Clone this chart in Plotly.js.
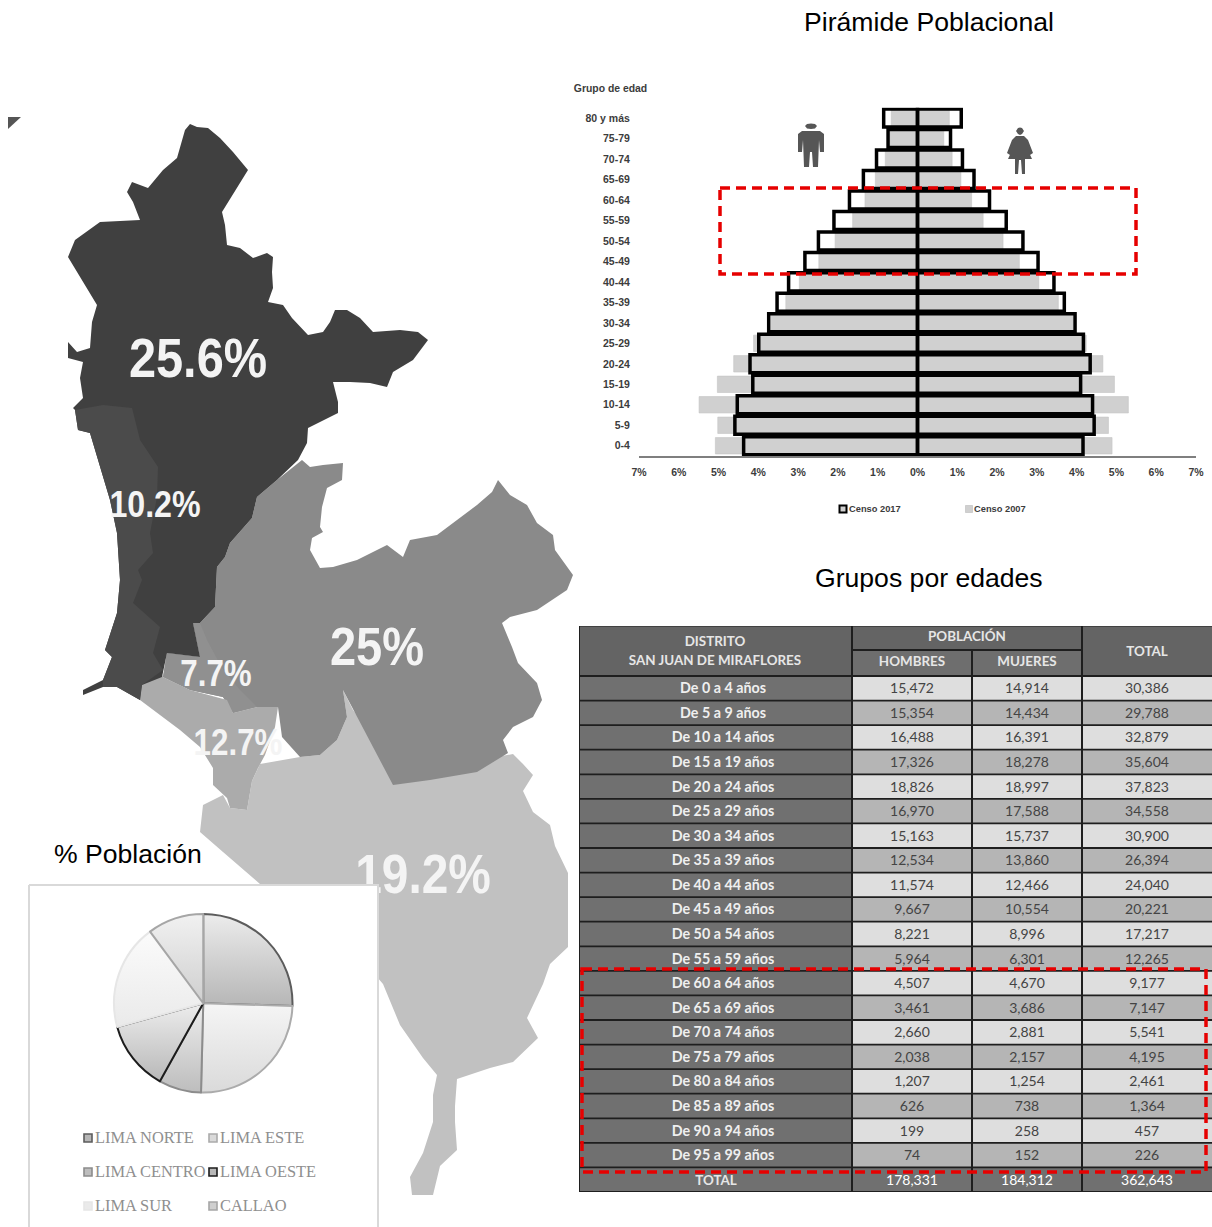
<!DOCTYPE html>
<html lang="es">
<head>
<meta charset="utf-8">
<title>San Juan de Miraflores: población</title>
<script src="https://cdn.plot.ly/plotly-3.0.1.min.js"></script>
<style>html,body{margin:0;padding:0;background:#fff}#chart{width:1212px;height:1227px}</style>
</head>
<body>
<div id="chart"></div>
<script>
// Age pyramid, census 2017 vs 2007 (% of population, oldest group first)
const ageBands = ['80 y más','75-79','70-74','65-69','60-64','55-59','50-54','45-49','40-44','35-39','30-34','25-29','20-24','15-19','10-14','5-9','0-4'];
const men2017 = [0.85,0.74,1.03,1.36,1.71,2.10,2.49,2.83,3.24,3.53,3.74,3.99,4.21,4.14,4.53,4.59,4.37];
const women2017 = [1.10,0.83,1.13,1.42,1.81,2.23,2.65,3.03,3.43,3.69,3.96,4.17,4.34,4.10,4.40,4.44,4.16];
const men2007 = [0.66,0.69,0.81,1.06,1.32,1.63,2.07,2.48,2.97,3.31,3.67,4.12,4.62,5.03,5.49,5.02,5.08];
const women2007 = [0.80,0.66,0.87,1.09,1.36,1.65,2.15,2.56,3.05,3.54,3.91,4.24,4.66,4.95,5.30,4.80,4.89];
const pctTicks = [-7,-6,-5,-4,-3,-2,-1,0,1,2,3,4,5,6,7];

// Population share by Lima zone
const zones = ['LIMA NORTE','LIMA ESTE','LIMA CENTRO','LIMA OESTE','LIMA SUR','CALLAO'];
const zoneShare = [25.6,25,7.7,12.7,19.2,10.2];
const zoneEdge = ['#5c5c5c','#ababab','#8c8c8c','#1c1c1c','#e6e6e6','#a6a6a6'];
const zoneFillTop = ['#ececec','#f5f5f5','#eeeeee','#ededed','#fbfbfb','#f1f1f1'];
const zoneFillBottom = ['#b6b6b6','#dadada','#bdbdbd','#b8b8b8','#eaeaea','#cfcfcf'];

// District table, San Juan de Miraflores
const tableAges = ['De 0 a 4 años','De 5 a 9 años','De 10 a 14 años','De 15 a 19 años','De 20 a 24 años','De 25 a 29 años','De 30 a 34 años','De 35 a 39 años','De 40 a 44 años','De 45 a 49 años','De 50 a 54 años','De 55 a 59 años','De 60 a 64 años','De 65 a 69 años','De 70 a 74 años','De 75 a 79 años','De 80 a 84 años','De 85 a 89 años','De 90 a 94 años','De 95 a 99 años','TOTAL'];
const hombres = [15472,15354,16488,17326,18826,16970,15163,12534,11574,9667,8221,5964,4507,3461,2660,2038,1207,626,199,74,178331];
const mujeres = [14914,14434,16391,18278,18997,17588,15737,13860,12466,10554,8996,6301,4670,3686,2881,2157,1254,738,258,152,184312];
const totales = [30386,29788,32879,35604,37823,34558,30900,26394,24040,20221,17217,12265,9177,7147,5541,4195,2461,1364,457,226,362643];

// Map outlines, in page units
const mapNorte = [[185,130],[190,124],[197,127],[208,128],[220,138],[233,152],[248,170],[243,178],[237,187],[230,198],[222,212],[225,225],[227,245],[240,248],[253,258],[267,253],[273,257],[272,272],[273,288],[268,302],[283,305],[292,318],[308,335],[323,332],[330,322],[335,310],[347,310],[360,318],[373,332],[400,330],[418,332],[428,340],[413,360],[393,372],[387,387],[370,383],[350,382],[333,382],[338,402],[338,413],[308,428],[307,443],[298,460],[277,480],[257,497],[252,518],[230,543],[225,557],[217,567],[215,607],[200,623],[193,623],[200,657],[167,653],[162,677],[142,685],[140,700],[117,687],[103,687],[83,695],[83,690],[103,680],[112,657],[105,650],[117,613],[120,580],[117,533],[110,500],[100,467],[90,433],[78,430],[75,410],[73,408],[83,398],[80,378],[83,362],[68,358],[68,342],[77,352],[90,348],[92,322],[97,305],[68,257],[75,240],[100,222],[140,220],[133,202],[127,192],[132,182],[148,188],[163,170],[177,158]];
const mapCallao = [[75,410],[103,405],[132,408],[140,440],[158,467],[157,497],[150,533],[153,553],[138,570],[142,580],[133,603],[160,627],[153,653],[163,670],[142,685],[140,700],[117,687],[103,687],[103,680],[112,657],[105,650],[117,613],[120,580],[117,533],[110,500],[100,467],[90,433],[78,430]];
const mapEste = [[302,460],[310,467],[323,465],[343,463],[342,480],[327,488],[322,507],[320,527],[323,532],[312,538],[310,550],[320,568],[333,567],[357,560],[387,545],[403,557],[410,540],[437,535],[453,523],[477,505],[492,492],[498,480],[510,495],[527,505],[537,523],[553,535],[555,550],[573,575],[567,590],[537,610],[510,617],[502,623],[512,647],[518,663],[537,683],[542,700],[533,717],[513,727],[503,740],[508,753],[477,772],[430,780],[393,785],[343,690],[347,717],[337,740],[320,755],[300,757],[282,737],[278,707],[257,707],[233,713],[223,697],[190,690],[163,677],[167,653],[200,657],[193,623],[200,623],[215,607],[217,567],[225,557],[230,543],[252,518],[257,497],[277,480]];
const mapCentro = [[167,653],[200,657],[193,623],[200,623],[207,640],[222,668],[240,690],[257,707],[233,713],[223,697],[190,690],[163,677]];
const mapOeste = [[142,685],[160,670],[163,677],[190,690],[227,700],[233,713],[257,707],[278,707],[275,727],[265,755],[258,768],[252,781],[247,810],[230,808],[227,798],[213,785],[213,768],[200,747],[180,730],[140,700]];
const mapSur = [[343,690],[353,710],[400,770],[440,770],[480,760],[513,754],[523,764],[533,775],[523,791],[533,812],[550,825],[555,846],[568,873],[568,947],[550,964],[543,984],[527,1018],[538,1038],[513,1062],[490,1068],[457,1079],[455,1106],[455,1122],[457,1150],[440,1166],[433,1195],[412,1195],[410,1177],[423,1153],[433,1122],[433,1095],[437,1075],[423,1058],[400,1025],[383,984],[377,977],[300,960],[260,884],[223,852],[200,832],[203,805],[223,795],[230,808],[247,810],[252,781],[260,764],[300,757],[320,755],[337,740],[347,717]];
const mapCorner = [[8,117],[21,117],[8,129]];
const mapLabels = [['25.6%',198,363,56],['10.2%',155,508,37],['7.7%',216,677,36],['12.7%',238,746,36],['25%',377,652,54],['19.2%',423,879,55]];

// Pictograms beside the pyramid
const manHead = [[805,126],[807,124],[811,123.5],[815,124],[817,126],[815,128.5],[811,129],[807,128.5]];
const manBody = [[802,131],[820,131],[824,134],[824,152],[820,152],[819,140],[818,167],[813,167],[812,152],[810,152],[809,167],[804,167],[803,140],[802,152],[798,152],[798,134]];
const womanHead = [[1016,131],[1018,128],[1020,127.5],[1022,128],[1024,131],[1022,134],[1020,135],[1018,134]];
const womanBody = [[1016,136],[1024,136],[1028,140],[1033,153],[1030,155],[1026,146],[1032,159],[1025,159],[1025,174],[1022,174],[1021,160],[1019,160],[1018,174],[1015,174],[1015,159],[1008,159],[1014,146],[1010,155],[1007,153],[1012,140]];

const W = 1212, H = 1227;
const SANS = '"Liberation Sans", Arial, sans-serif';
const TABLE_FONT = 'Lato, "Noto Sans", sans-serif';

// Filled outline on the page-wide axes
const patch = (pts, color, line) => ({
  type: 'scatter', mode: 'lines', xaxis: 'x', yaxis: 'y', hoverinfo: 'skip',
  x: pts.map(p => p[0]).concat(pts[0][0]),
  y: pts.map(p => p[1]).concat(pts[0][1]),
  fill: 'toself', fillcolor: color,
  line: line || {width: 0, color: color}
});
const pageText = (x, y, text, size, color, family, weight, pos) => ({
  type: 'scatter', mode: 'text', xaxis: 'x', yaxis: 'y', hoverinfo: 'skip',
  x: x, y: y, text: text, cliponaxis: false, textposition: pos || 'middle center',
  textfont: {size: size, color: color, family: family, weight: weight || 400}
});

const traces = [
  patch(mapSur, '#c1c1c1'), patch(mapEste, '#8a8a8a'), patch(mapCentro, '#909090'),
  patch(mapOeste, '#ababab'), patch(mapNorte, '#404040'), patch(mapCallao, '#4b4b4b'),
  patch(mapCorner, '#555555')
];
mapLabels.forEach(l => traces.push(pageText([l[1]], [l[2]], [l[0]], l[3], '#f4f4f4', SANS, 700)));

// Panel of the zone chart sits over the map, under the pie
traces.push(patch([[29,885],[378,885],[378,1240],[29,1240]], '#ffffff', {width: 2, color: '#d9d9d9'}));
const swatchX = zones.map((_, i) => i % 2 ? 213 : 88);
const swatchY = zones.map((_, i) => 1138 + 34 * Math.floor(i / 2));
traces.push({
  type: 'scatter', mode: 'markers', xaxis: 'x', yaxis: 'y', hoverinfo: 'skip',
  x: swatchX, y: swatchY,
  marker: {symbol: 'square', size: 8, color: zoneFillBottom, line: {width: 1.6, color: zoneEdge}}
});
traces.push(pageText(swatchX.map(v => v + 7), swatchY.map(v => v + 1), zones, 16.4, '#8f8f8f', '"Liberation Serif", serif', 400, 'middle right'));

traces.push({
  type: 'pie', labels: zones, values: zoneShare, sort: false, direction: 'clockwise', rotation: 0,
  domain: {x: [114 / W, 292.5 / W], y: [1 - 1092.5 / H, 1 - 914 / H]},
  textinfo: 'none', hoverinfo: 'label+percent', showlegend: false,
  marker: {colors: zoneFillBottom, line: {color: zoneEdge, width: 2}}
});

// Pyramid: 2007 as plain grey bars, 2017 as black outlines on top
const censusBar = (values, sign, name, width, marker) => ({
  type: 'bar', orientation: 'h', xaxis: 'x2', yaxis: 'y2', name: name,
  y: ageBands, x: values.map(v => sign * v), width: width, marker: marker,
  hovertemplate: '%{y}: %{x}%<extra>' + name + '</extra>'
});
const grey = {color: '#d0d0d0', line: {color: '#c4c4c4', width: 0.6}};
const outline = {color: 'rgba(0,0,0,0)', line: {color: '#000000', width: 3.5}};
traces.push(censusBar(men2007, -1, 'Censo 2007', 0.8, grey));
traces.push(censusBar(women2007, 1, 'Censo 2007', 0.8, grey));
traces.push(censusBar(men2017, -1, 'Censo 2017', 0.88, outline));
traces.push(censusBar(women2017, 1, 'Censo 2017', 0.88, outline));
[manHead, manBody, womanHead, womanBody].forEach(p => traces.push(patch(p, '#565656')));
traces.push(pageText([610.5], [89], ['Grupo de edad'], 10.4, '#3c3c3c', SANS, 700));
traces.push({
  type: 'scatter', mode: 'markers', xaxis: 'x', yaxis: 'y', hoverinfo: 'skip',
  x: [843, 969], y: [509, 509],
  marker: {symbol: 'square', size: 7, color: ['#d0d0d0', '#d0d0d0'], line: {width: [2, 0.6], color: ['#000000', '#bbbbbb']}}
});
traces.push(pageText([849, 974], [510, 510], ['Censo 2017', 'Censo 2007'], 9.3, '#3c3c3c', SANS, 700, 'middle right'));

// Table: body cells as two heatmaps sharing the table axes, one row per entry
const lastRow = tableAges.length - 1;
const rowEdges = tableAges.map((_, i) => i).concat(tableAges.length);
const colEdges = [579, 852, 972, 1082, 1212];
const labelEdges = [579, 594, 852];
const shadeOf = i => i === lastRow ? 0 : (i % 2 ? 1 : 2);
const tableScale = [[0, '#707070'], [0.5, '#b5b5b5'], [1, '#dedede']];
const fmt = v => v.toLocaleString('en-US');
traces.push({
  type: 'heatmap', xaxis: 'x3', yaxis: 'y3', x: labelEdges, y: rowEdges,
  z: tableAges.map(() => [0, 0]), zmin: 0, zmax: 2, colorscale: tableScale, showscale: false,
  text: tableAges.map((a, i) => ['', i === lastRow ? '' : a]), texttemplate: '%{text}', hoverinfo: 'skip',
  textfont: {family: TABLE_FONT, size: 14.3, weight: 700, color: '#efefef'}
});
traces.push({
  type: 'heatmap', xaxis: 'x3', yaxis: 'y3', x: colEdges.slice(1), y: rowEdges,
  z: tableAges.map((_, i) => [shadeOf(i), shadeOf(i), shadeOf(i)]), zmin: 0, zmax: 2,
  colorscale: tableScale, showscale: false,
  text: tableAges.map((_, i) => [fmt(hombres[i]), fmt(mujeres[i]), fmt(totales[i])]),
  texttemplate: '%{text}', hoverinfo: 'skip',
  textfont: {family: TABLE_FONT, size: 14}
});
// Two-row header with merged cells
const headTop = -2.035, headMid = -1.06;
traces.push({
  type: 'heatmap', xaxis: 'x3', yaxis: 'y3', x: colEdges, y: [headTop, headMid, 0],
  z: [[0,0,0,0],[0,1,1,0]], zmin: 0, zmax: 1, colorscale: [[0,'#646464'],[1,'#6e6e6e']],
  showscale: false, hoverinfo: 'skip'
});
traces.push({
  type: 'scatter', mode: 'text', xaxis: 'x3', yaxis: 'y3', hoverinfo: 'skip', cliponaxis: false,
  x: [715, 715, 967, 912, 1027, 1147, 716],
  y: [-1.36, -0.58, -1.56, -0.54, -0.54, -0.94, 20.56],
  text: ['DISTRITO', 'SAN JUAN DE MIRAFLORES', 'POBLACIÓN', 'HOMBRES', 'MUJERES', 'TOTAL', tableAges[lastRow]],
  textfont: {family: TABLE_FONT, size: 13.4, weight: 700, color: '#e6e6e6'}
});

// Cell rules for the table
const rule = (x0, y0, x1, y1, w) => ({
  type: 'line', xref: 'x3', yref: 'y3', x0, y0, x1, y1, layer: 'above',
  line: {color: '#1e1e1e', width: w}
});
const tableRules = [rule(579, headTop, 1212, headTop, 1), rule(colEdges[1], headMid, colEdges[3], headMid, 2)];
rowEdges.forEach(r => tableRules.push(rule(579, r, 1212, r, 1.8)));
tableRules.push(rule(579, headTop, 579, 21, 2));
tableRules.push(rule(852, headTop, 852, 21, 2));
tableRules.push(rule(972, headMid, 972, 21, 2));
tableRules.push(rule(1082, headTop, 1082, 21, 2));

// Dashed red highlights
const highlight = (x0, y0, x1, y1) => ({
  type: 'rect', xref: 'x', yref: 'y', x0, y0, x1, y1, layer: 'above',
  line: {color: '#e60000', width: 3.5, dash: '10px,6px'}
});

const hidden = {visible: false, fixedrange: true};
const tickFont = {family: SANS, size: 10.5, color: '#3c3c3c', weight: 700};
const layout = {
  width: W, height: H, margin: {l: 0, r: 0, t: 0, b: 0},
  paper_bgcolor: '#ffffff', plot_bgcolor: 'rgba(0,0,0,0)',
  showlegend: false, barmode: 'overlay', hovermode: false,
  title: {text: 'Pirámide Poblacional', x: 929 / W, xanchor: 'center', y: 1 - 22 / H, yanchor: 'middle',
          font: {family: SANS, size: 26.6, color: '#000000'}},
  xaxis: Object.assign({domain: [0, 1], range: [0, W]}, hidden),
  yaxis: Object.assign({domain: [0, 1], range: [H, 0]}, hidden),
  xaxis2: {
    domain: [639 / W, 1196 / W], range: [-7, 7], anchor: 'y2', fixedrange: true,
    tickmode: 'array', tickvals: pctTicks, ticktext: pctTicks.map(v => Math.abs(v) + '%'),
    showgrid: false, zeroline: false, showline: true, linecolor: '#7f7f7f', linewidth: 1.5,
    ticks: 'outside', ticklen: 6, tickcolor: 'rgba(0,0,0,0)', tickfont: tickFont
  },
  yaxis2: {
    domain: [1 - 456 / H, 1 - 107.75 / H], anchor: 'x2', type: 'category', fixedrange: true,
    categoryorder: 'array', categoryarray: ageBands.slice().reverse(),
    showgrid: false, zeroline: false, showline: false,
    ticks: 'outside', ticklen: 6, tickcolor: 'rgba(0,0,0,0)', tickfont: tickFont
  },
  xaxis3: Object.assign({domain: [579 / W, 1], range: [579, W], anchor: 'y3'}, hidden),
  yaxis3: Object.assign({domain: [1 - 1192 / H, 1 - 626 / H], range: [21, headTop], anchor: 'x3'}, hidden),
  shapes: tableRules.concat([highlight(720, 188, 1136, 274), highlight(582, 969, 1206, 1172)]),
  annotations: [
    {text: 'Grupos por edades', xref: 'paper', yref: 'paper', x: 929 / W, y: 1 - 578 / H,
     xanchor: 'center', yanchor: 'middle', showarrow: false, font: {family: SANS, size: 26.6, color: '#000000'}},
    {text: '% Población', xref: 'paper', yref: 'paper', x: 127.5 / W, y: 1 - 854 / H,
     xanchor: 'center', yanchor: 'middle', showarrow: false, font: {family: SANS, size: 26.6, color: '#000000'}}
  ]
};

Plotly.newPlot('chart', traces, layout, {displayModeBar: false, staticPlot: true}).then(gd => {
  // Pie wedges carry a soft top-to-bottom shading
  const NS = 'http://www.w3.org/2000/svg';
  const svg = gd.querySelector('svg.main-svg');
  let defs = svg.querySelector('defs');
  if (!defs) { defs = document.createElementNS(NS, 'defs'); svg.prepend(defs); }
  gd.querySelectorAll('.pielayer .slice path.surface').forEach((path, i) => {
    const g = document.createElementNS(NS, 'linearGradient');
    g.setAttribute('id', 'zoneShade' + i);
    g.setAttribute('x1', '0'); g.setAttribute('y1', '0'); g.setAttribute('x2', '0'); g.setAttribute('y2', '1');
    [['0', zoneFillTop[i]], ['1', zoneFillBottom[i]]].forEach(([o, c]) => {
      const s = document.createElementNS(NS, 'stop');
      s.setAttribute('offset', o); s.setAttribute('stop-color', c);
      g.appendChild(s);
    });
    defs.appendChild(g);
    path.style.fill = 'url(#zoneShade' + i + ')';
  });
  // Map percentages are set in a tall, condensed cut
  const mapPercents = mapLabels.map(l => l[0]);
  gd.querySelectorAll('.scatterlayer .textpoint text').forEach(t => {
    if (!mapPercents.includes(t.textContent)) return;
    const x = +t.getAttribute('x');
    t.setAttribute('transform', 'translate(' + x + ' 0) scale(0.87 1) translate(' + (-x) + ' 0)');
  });
});
</script>
</body>
</html>
